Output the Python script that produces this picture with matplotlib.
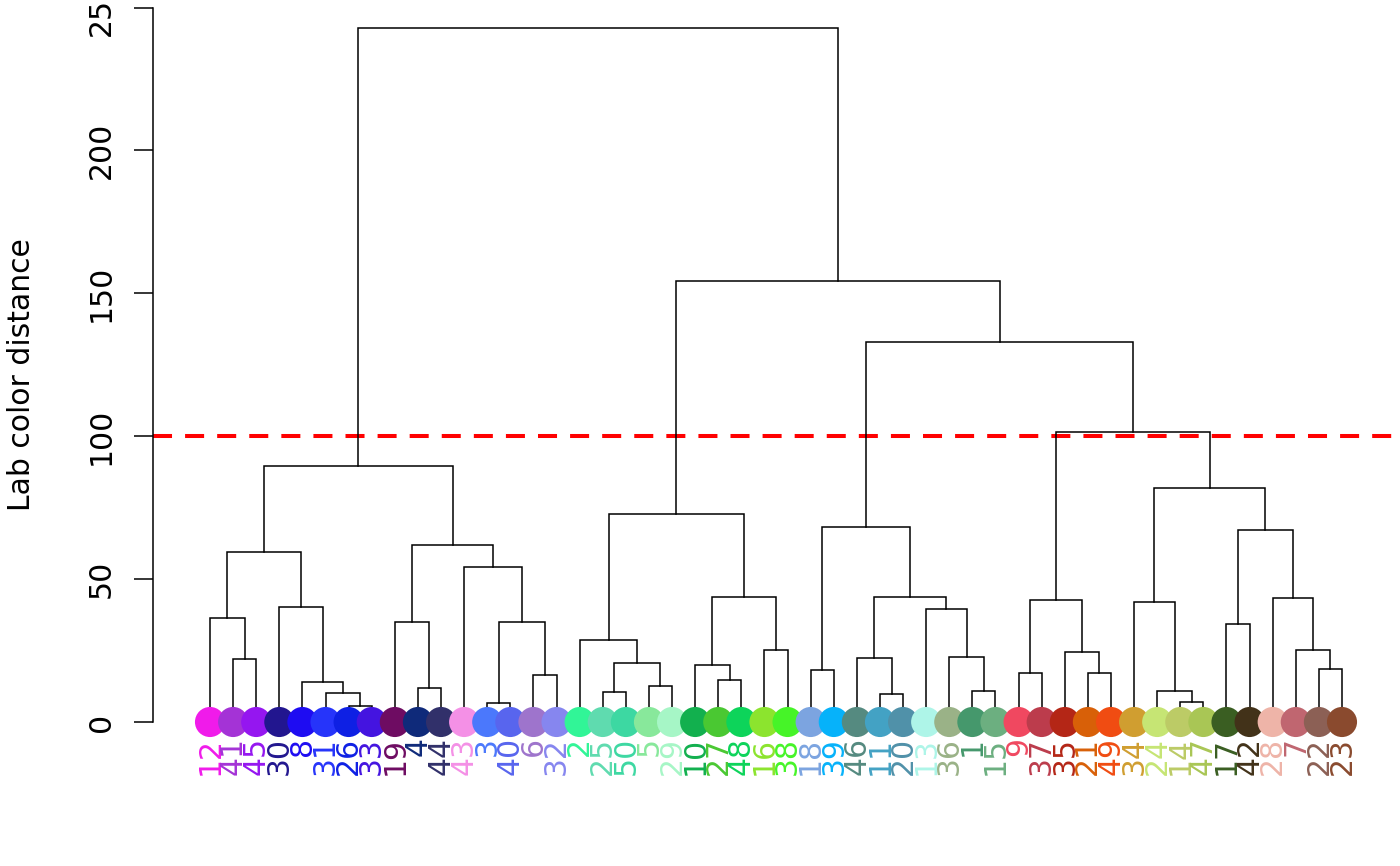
import matplotlib
matplotlib.use('Agg')
import matplotlib.pyplot as plt

# leaf labels and colours, left to right
leaf_labels = ['12', '41', '45', '30', '8', '31', '26', '33', '19', '4',
               '44', '43', '3', '40', '6', '32', '2', '25', '50', '5',
               '29', '10', '27', '48', '16', '38', '18', '39', '46', '11',
               '20', '13', '36', '1', '15', '9', '37', '35', '21', '49',
               '34', '24', '14', '47', '17', '42', '28', '7', '22', '23']
leaf_colors = ['#F01BEA', '#A433D6', '#9516F0', '#22168F', '#1E0CF2', '#2634FA', '#0E20E4', '#4414E0', '#6E0C62', '#0F2A7A',
               '#31306A', '#F490E6', '#4B78FC', '#5865EE', '#9E74CC', '#8686EF', '#31F597', '#5FDBAF', '#3DD8A2', '#88E89B',
               '#A6F6C6', '#12B04E', '#4AC832', '#0DD45A', '#8CE42E', '#46F428', '#7CA4E0', '#06B2FA', '#558A80', '#43A2C4',
               '#5091A9', '#AEF5E8', '#9AB287', '#45986C', '#6CAF80', '#F04860', '#BC3C4C', '#B42616', '#D86008', '#F04C12',
               '#D09E30', '#C6E574', '#BCCB66', '#A9C655', '#3A5E22', '#423219', '#EEB4A8', '#C06670', '#8C6055', '#8A4A2E']

# hclust style merges: negative = leaf position (1-based), positive = earlier merge row
merge_a = [-7, -13, -43, -30, -6, -18, -34, -42, -10, -20,
           -5, -23, -15, -39, -36, -27, -49, -22, 6, -2,
           -29, -33, -38, -25, -48, -17, -45, -9, 2, -1,
           -32, -4, -41, 15, -47, 18, 21, -12, 30, 28,
           27, 16, 26, 33, 39, 34, 42, 43, 45]
merge_b = [-8, -14, -44, -31, 1, -19, -35, 3, -11, -21,
           5, -24, -16, -40, -37, -28, -50, 12, 10, -3,
           4, 7, 14, -26, 17, 19, -46, 9, 13, 20,
           22, 11, 8, 23, 25, 24, 31, 29, 32, 38,
           35, 37, 36, 41, 40, 44, 46, 47, 48]
merge_h = [5.6, 6.5, 6.9, 9.8, 10.0, 10.4, 10.9, 11.0, 12.0, 12.6,
           14.1, 14.7, 16.5, 17.0, 17.3, 18.2, 18.5, 19.9, 20.5, 21.9,
           22.5, 22.9, 24.6, 25.2, 25.2, 28.7, 34.2, 34.9, 34.9, 36.3,
           39.6, 40.4, 41.9, 42.7, 43.5, 43.9, 43.9, 54.4, 59.4, 62.0,
           67.1, 68.3, 72.9, 82.0, 89.4, 101.4, 132.8, 154.4, 242.9]

cut_height = 100
yticks = [0, 50, 100, 150, 200, 250]

fs = 21.5
fig = plt.figure(figsize=(14, 8.66), dpi=100)
ax = fig.add_axes([153 / 1400, 0, 1 - 153 / 1400, 1])

px_per_leaf = 23.1
x_lo = 1 - (210 - 153) / px_per_leaf
x_hi = len(leaf_labels) + (1400 - 1342) / px_per_leaf
unit = 250 / (722 - 7.5)
ax.set_xlim(x_lo, x_hi)
ax.set_ylim(-(866 - 722) * unit, 250 + 7.5 * unit)


def node_pos(k, xs):
    if k < 0:
        return -k, 0.0
    return xs[k - 1], merge_h[k - 1]


xs = []
for a, b, h in zip(merge_a, merge_b, merge_h):
    xa, ha = node_pos(a, xs)
    xb, hb = node_pos(b, xs)
    ax.plot([xa, xa, xb, xb], [ha, h, h, hb], color='black', lw=1.1,
            solid_joinstyle='miter', zorder=2)
    xs.append((xa + xb) / 2)

lw_cut = 2.9
ax.axhline(cut_height, color='red', lw=lw_cut,
           linestyle=(0, (13.7 / lw_cut, 9.4 / lw_cut)), zorder=1)

leaf_x = list(range(1, len(leaf_labels) + 1))
for x, lab, col in zip(leaf_x, leaf_labels, leaf_colors):
    ax.scatter([x], [0], s=470, color=col, edgecolors='none', zorder=3)
    ax.text(x, -15 * unit, lab, rotation=90, ha='center', va='top',
            color=col, fontsize=fs)

ax.set_yticks(yticks)
ax.set_yticklabels([str(t) for t in yticks], rotation=90, va='center',
                   fontsize=fs)
ax.tick_params(axis='y', length=13.7, width=1.1, pad=13)
ax.set_xticks([])
for side in ['top', 'right', 'bottom']:
    ax.spines[side].set_visible(False)
ax.spines['left'].set_bounds(0, 250)
ax.spines['left'].set_linewidth(1.1)
ax.patch.set_visible(False)

fig.text(22 / 1400, 1 - 375 / 866, 'Lab color distance', rotation=90,
         ha='center', va='center', fontsize=fs)

fig.savefig('out.png', dpi=100)
